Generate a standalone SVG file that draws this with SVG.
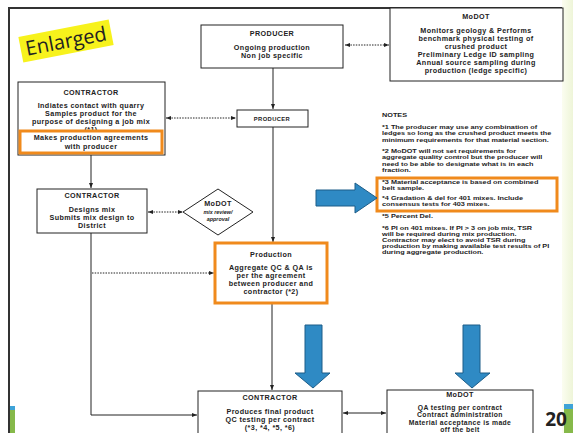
<svg xmlns="http://www.w3.org/2000/svg" width="573" height="433" viewBox="0 0 573 433">
<defs>
<style>
.box{fill:#fff;stroke:#222;stroke-width:1}
.ob{fill:#fff;stroke:#f08a1c;stroke-width:3}
.t{font-family:"Liberation Sans",Arial,sans-serif;font-size:7.2px;letter-spacing:0.4px;font-weight:bold;fill:#222;text-anchor:middle}
.h{font-family:"Liberation Sans",Arial,sans-serif;font-size:7.2px;letter-spacing:0.4px;font-weight:bold;fill:#222;text-anchor:middle}
.s{font-family:"Liberation Sans",Arial,sans-serif;font-size:5.4px;font-style:italic;font-weight:bold;fill:#222;text-anchor:middle}
.n{font-family:"Liberation Sans",Arial,sans-serif;font-size:5.6px;font-weight:bold;fill:#222}
.ln{fill:none;stroke:#222;stroke-width:1}
.dt{fill:none;stroke:#222;stroke-width:1;stroke-dasharray:1.5 1.2}
.ba{fill:#2f8ac4;stroke:#1d5d88;stroke-width:1}
</style>
<marker id="ah" viewBox="0 0 10 10" refX="10" refY="5" markerWidth="5" markerHeight="5" orient="auto-start-reverse">
<path d="M0,1 L10,5 L0,9 z" fill="#222"/>
</marker>
<linearGradient id="edge" x1="0" y1="0" x2="1" y2="0">
<stop offset="0" stop-color="#fbfdf0"/>
<stop offset="1" stop-color="#eef5d8"/>
</linearGradient>
</defs>
<rect width="573" height="433" fill="#fff"/>
<rect x="562" y="0" width="11" height="433" fill="url(#edge)"/>
<rect x="564" y="404" width="9" height="5" fill="#3fa3d8"/>
<rect x="564" y="409" width="9" height="24" fill="#86b94a"/>
<rect x="10" y="406" width="5" height="4" fill="#3fa3d8"/>
<rect x="10" y="410" width="5" height="23" fill="#86b94a"/>
<path d="M9,433 V8 H562" fill="none" stroke="#333" stroke-width="2"/>

<g id="enlarged" transform="translate(66,41) rotate(-11)">
<rect x="-46" y="-13" width="92" height="26" fill="#f7f21c"/>
<text x="0" y="7" font-family="'Open Sans','Liberation Sans',sans-serif" font-size="20" fill="#222" text-anchor="middle">Enlarged</text>
</g>

<g id="connectors">
<line class="ln" x1="273" y1="68" x2="273" y2="109" marker-end="url(#ah)"/>
<line class="dt" x1="345" y1="45" x2="389" y2="45" marker-start="url(#ah)" marker-end="url(#ah)"/>
<line class="dt" x1="166" y1="118" x2="236" y2="118" marker-start="url(#ah)" marker-end="url(#ah)"/>
<line class="ln" x1="91" y1="155" x2="91" y2="188" marker-end="url(#ah)"/>
<line class="ln" x1="273" y1="127" x2="273" y2="242" marker-end="url(#ah)"/>
<line class="dt" x1="148" y1="212" x2="183" y2="212" marker-start="url(#ah)" marker-end="url(#ah)"/>
<line class="dt" x1="92" y1="273" x2="214" y2="273" marker-end="url(#ah)"/>
<polyline class="ln" points="91,233 91,415 197,415" marker-end="url(#ah)"/>
<line class="ln" x1="272" y1="303" x2="272" y2="390" marker-end="url(#ah)"/>
<line class="ln" x1="343" y1="413" x2="386" y2="413" marker-start="url(#ah)" marker-end="url(#ah)"/>
</g>

<g id="producer-top">
<rect class="box" x="201" y="25" width="142" height="43"/>
<text class="h" x="272" y="36">PRODUCER</text>
<text class="t" x="272" y="50">Ongoing production</text>
<text class="t" x="272" y="58">Non job specific</text>
</g>

<g id="modot-top">
<rect class="box" x="390" y="8" width="173" height="73"/>
<text class="h" x="476" y="19">MoDOT</text>
<text class="t" x="476" y="33">Monitors geology &amp; Performs</text>
<text class="t" x="476" y="41">benchmark physical testing of</text>
<text class="t" x="476" y="49">crushed product</text>
<text class="t" x="476" y="57">Preliminary Ledge ID sampling</text>
<text class="t" x="476" y="65">Annual source sampling during</text>
<text class="t" x="476" y="73">production (ledge specific)</text>
</g>

<g id="contractor-1">
<rect class="box" x="18" y="82" width="147" height="73"/>
<text class="h" x="91" y="95">CONTRACTOR</text>
<text class="t" x="91" y="108">Indiates contact with quarry</text>
<text class="t" x="91" y="116">Samples product for the</text>
<text class="t" x="91" y="124">purpose of designing a job mix</text>
<text class="t" x="91" y="132">(*1)</text>
<rect class="ob" x="20" y="131" width="142" height="22"/>
<text class="t" x="91" y="140">Makes production agreements</text>
<text class="t" x="91" y="149">with producer</text>
</g>

<g id="producer-small">
<rect class="box" x="237" y="110" width="71" height="17"/>
<text class="h" x="272" y="121" style="font-size:5.8px">PRODUCER</text>
</g>

<g id="contractor-2">
<rect class="box" x="37" y="189" width="110" height="44"/>
<text class="h" x="92" y="198">CONTRACTOR</text>
<text class="t" x="92" y="212">Designs mix</text>
<text class="t" x="92" y="220">Submits mix design to</text>
<text class="t" x="92" y="228">District</text>
</g>

<g id="modot-diamond">
<polygon points="183,212 218,189 253,212 218,235" fill="#fff" stroke="#222" stroke-width="1"/>
<text class="h" x="218" y="206">MoDOT</text>
<text class="s" x="218" y="214">mix review/</text>
<text class="s" x="218" y="220.5">approval</text>
</g>

<g id="production">
<rect class="ob" x="215" y="243" width="112" height="60"/>
<text class="h" x="271" y="257">Production</text>
<text class="t" x="271" y="270">Aggregate QC &amp; QA is</text>
<text class="t" x="271" y="278">per the agreement</text>
<text class="t" x="271" y="286">between producer and</text>
<text class="t" x="271" y="294">contractor (*2)</text>
</g>

<g id="contractor-3">
<rect class="box" x="198" y="391" width="144" height="50"/>
<text class="h" x="270" y="400">CONTRACTOR</text>
<text class="t" x="270" y="414">Produces final product</text>
<text class="t" x="270" y="422">QC testing per contract</text>
<text class="t" x="270" y="430">(*3, *4, *5, *6)</text>
</g>

<g id="modot-bottom">
<rect class="box" x="387" y="390" width="146" height="50"/>
<text class="h" x="460" y="397">MoDOT</text>
<text class="t" x="460" y="409.5" style="font-size:6.8px">QA testing per contract</text>
<text class="t" x="460" y="417" style="font-size:6.8px">Contract administration</text>
<text class="t" x="460" y="424.5" style="font-size:6.8px">Material acceptance is made</text>
<text class="t" x="460" y="432" style="font-size:6.8px">off the belt</text>
</g>

<g id="notes">
<rect class="ob" x="377" y="178" width="180" height="33" fill="none"/>
<g transform="matrix(1.3,0,0,1,-114.6,0)">
<text class="n" x="382" y="117">NOTES</text>
<text class="n" x="382" y="129">*1  The producer may use any combination of</text>
<text class="n" x="382" y="135.5">ledges so long as the crushed product meets the</text>
<text class="n" x="382" y="142">minimum requirements for that material section.</text>
<text class="n" x="382" y="153">*2  MoDOT will not set requirements for</text>
<text class="n" x="382" y="159.5">aggregate quality control but the producer will</text>
<text class="n" x="382" y="166">need to be able to designate what is in each</text>
<text class="n" x="382" y="172.5">fraction.</text>
<text class="n" x="382" y="184">*3  Material acceptance is based on combined</text>
<text class="n" x="382" y="190.5">belt sample.</text>
<text class="n" x="382" y="200">*4  Gradation &amp; del for 401 mixes.  Include</text>
<text class="n" x="382" y="206.5">consensus tests for 403 mixes.</text>
<text class="n" x="382" y="218">*5  Percent Del.</text>
<text class="n" x="382" y="230">*6  PI on 401 mixes.  If PI &gt; 3 on job mix, TSR</text>
<text class="n" x="382" y="236">will be required during mix production.</text>
<text class="n" x="382" y="242">Contractor may elect to avoid TSR during</text>
<text class="n" x="382" y="248">production by making available test results of PI</text>
<text class="n" x="382" y="254">during aggregate production.</text>
</g>
</g>

<g id="blue-arrows">
<path class="ba" d="M316,190 H355 V183 L377,198 L355,213 V206 H316 Z"/>
<path class="ba" d="M305,325 H322 V373 H330 L313,388 L295,373 H305 Z"/>
<path class="ba" d="M463,325 H480 V373 H490 L472,388 L455,373 H463 Z"/>
</g>

<text x="556" y="426" font-family="'Open Sans','Liberation Sans',sans-serif" font-size="19" font-weight="bold" fill="#222" text-anchor="middle">20</text>
</svg>
